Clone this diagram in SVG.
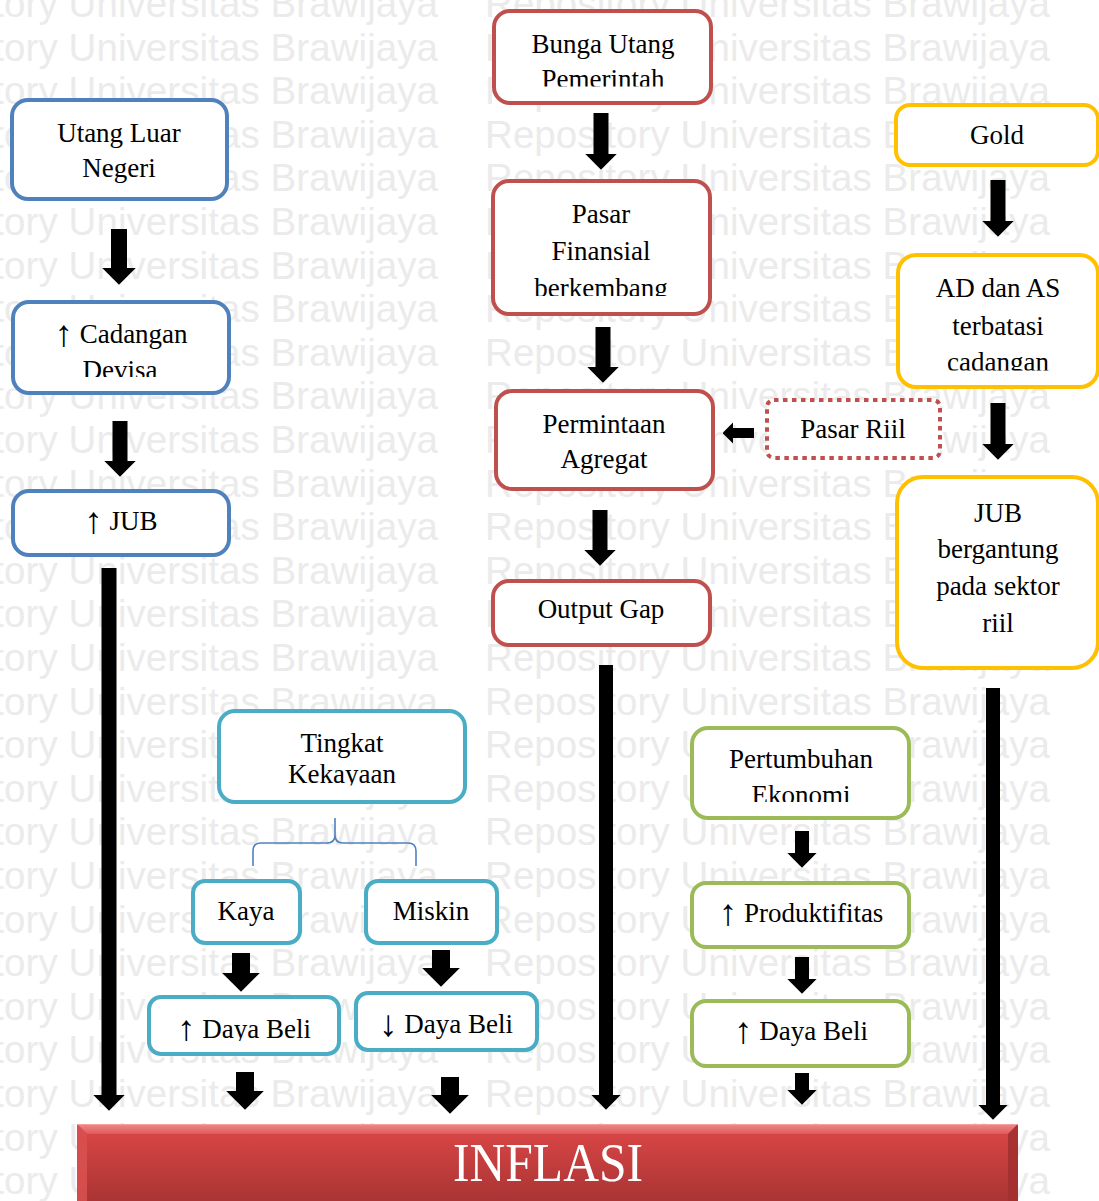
<svg xmlns="http://www.w3.org/2000/svg" width="1099" height="1201" viewBox="0 0 1099 1201">
<style>
.wm{font-family:"Liberation Sans",Arial,sans-serif;font-size:38.5px;fill:#ebebeb}
.box{fill:#fff;stroke-width:4}
.blue{stroke:#4f81bd}.red{stroke:#c0504d}.yel{stroke:#ffc000}.teal{stroke:#4bacc6}.grn{stroke:#9bbb59}
.dot{fill:#fff;stroke:#c0504d;stroke-width:4;stroke-dasharray:4.5 4.5}
.t{font-family:"Liberation Serif","Times New Roman",serif;font-size:27px;fill:#000;text-anchor:middle}
.ar{font-size:37px}
.arr{stroke:#000;fill:none;marker-end:url(#ah)}
.brace{fill:none;stroke:#4f81bd;stroke-width:1.6}
</style>
<defs>
<marker id="ah" viewBox="0 0 16 32" markerUnits="strokeWidth" markerWidth="1.07" markerHeight="2.13" refX="0.3" refY="16" orient="auto">
<path d="M0,0 L16,16 L0,32 z" fill="#000"/>
</marker>
<linearGradient id="red" x1="0" y1="0" x2="0" y2="1">
<stop offset="0" stop-color="#dd4747"/><stop offset="1" stop-color="#a83333"/>
</linearGradient>
<linearGradient id="redtop" x1="0" y1="0" x2="0" y2="1">
<stop offset="0" stop-color="#f08a8a"/><stop offset="1" stop-color="#e05a5a"/>
</linearGradient>
<clipPath id="cBunga"><rect x="494" y="11" width="217" height="75.5"/></clipPath>
<clipPath id="cDevisa"><rect x="13" y="302" width="216" height="75"/></clipPath>
<clipPath id="cPasar"><rect x="493" y="181" width="217" height="115"/></clipPath>
<clipPath id="cAD"><rect x="898" y="255" width="200" height="115.5"/></clipPath>
<clipPath id="cKek"><rect x="219" y="711" width="246" height="74.5"/></clipPath>
<clipPath id="cEko"><rect x="692" y="728" width="217" height="74"/></clipPath>
<clipPath id="cDaya"><rect x="149" y="997" width="190" height="44"/></clipPath>
</defs>
<rect width="1099" height="1201" fill="#fff"/>
<g id="watermark">
<text class="wm" x="-127" y="17" textLength="565">Repository Universitas Brawijaya</text><text class="wm" x="485" y="17" textLength="565">Repository Universitas Brawijaya</text>
<text class="wm" x="-127" y="60.6" textLength="565">Repository Universitas Brawijaya</text><text class="wm" x="485" y="60.6" textLength="565">Repository Universitas Brawijaya</text>
<text class="wm" x="-127" y="104.2" textLength="565">Repository Universitas Brawijaya</text><text class="wm" x="485" y="104.2" textLength="565">Repository Universitas Brawijaya</text>
<text class="wm" x="-127" y="147.8" textLength="565">Repository Universitas Brawijaya</text><text class="wm" x="485" y="147.8" textLength="565">Repository Universitas Brawijaya</text>
<text class="wm" x="-127" y="191.4" textLength="565">Repository Universitas Brawijaya</text><text class="wm" x="485" y="191.4" textLength="565">Repository Universitas Brawijaya</text>
<text class="wm" x="-127" y="235" textLength="565">Repository Universitas Brawijaya</text><text class="wm" x="485" y="235" textLength="565">Repository Universitas Brawijaya</text>
<text class="wm" x="-127" y="278.6" textLength="565">Repository Universitas Brawijaya</text><text class="wm" x="485" y="278.6" textLength="565">Repository Universitas Brawijaya</text>
<text class="wm" x="-127" y="322.2" textLength="565">Repository Universitas Brawijaya</text><text class="wm" x="485" y="322.2" textLength="565">Repository Universitas Brawijaya</text>
<text class="wm" x="-127" y="365.8" textLength="565">Repository Universitas Brawijaya</text><text class="wm" x="485" y="365.8" textLength="565">Repository Universitas Brawijaya</text>
<text class="wm" x="-127" y="409.4" textLength="565">Repository Universitas Brawijaya</text><text class="wm" x="485" y="409.4" textLength="565">Repository Universitas Brawijaya</text>
<text class="wm" x="-127" y="453" textLength="565">Repository Universitas Brawijaya</text><text class="wm" x="485" y="453" textLength="565">Repository Universitas Brawijaya</text>
<text class="wm" x="-127" y="496.6" textLength="565">Repository Universitas Brawijaya</text><text class="wm" x="485" y="496.6" textLength="565">Repository Universitas Brawijaya</text>
<text class="wm" x="-127" y="540.2" textLength="565">Repository Universitas Brawijaya</text><text class="wm" x="485" y="540.2" textLength="565">Repository Universitas Brawijaya</text>
<text class="wm" x="-127" y="583.8" textLength="565">Repository Universitas Brawijaya</text><text class="wm" x="485" y="583.8" textLength="565">Repository Universitas Brawijaya</text>
<text class="wm" x="-127" y="627.4" textLength="565">Repository Universitas Brawijaya</text><text class="wm" x="485" y="627.4" textLength="565">Repository Universitas Brawijaya</text>
<text class="wm" x="-127" y="671" textLength="565">Repository Universitas Brawijaya</text><text class="wm" x="485" y="671" textLength="565">Repository Universitas Brawijaya</text>
<text class="wm" x="-127" y="714.6" textLength="565">Repository Universitas Brawijaya</text><text class="wm" x="485" y="714.6" textLength="565">Repository Universitas Brawijaya</text>
<text class="wm" x="-127" y="758.2" textLength="565">Repository Universitas Brawijaya</text><text class="wm" x="485" y="758.2" textLength="565">Repository Universitas Brawijaya</text>
<text class="wm" x="-127" y="801.8" textLength="565">Repository Universitas Brawijaya</text><text class="wm" x="485" y="801.8" textLength="565">Repository Universitas Brawijaya</text>
<text class="wm" x="-127" y="845.4" textLength="565">Repository Universitas Brawijaya</text><text class="wm" x="485" y="845.4" textLength="565">Repository Universitas Brawijaya</text>
<text class="wm" x="-127" y="889" textLength="565">Repository Universitas Brawijaya</text><text class="wm" x="485" y="889" textLength="565">Repository Universitas Brawijaya</text>
<text class="wm" x="-127" y="932.6" textLength="565">Repository Universitas Brawijaya</text><text class="wm" x="485" y="932.6" textLength="565">Repository Universitas Brawijaya</text>
<text class="wm" x="-127" y="976.2" textLength="565">Repository Universitas Brawijaya</text><text class="wm" x="485" y="976.2" textLength="565">Repository Universitas Brawijaya</text>
<text class="wm" x="-127" y="1019.8" textLength="565">Repository Universitas Brawijaya</text><text class="wm" x="485" y="1019.8" textLength="565">Repository Universitas Brawijaya</text>
<text class="wm" x="-127" y="1063.4" textLength="565">Repository Universitas Brawijaya</text><text class="wm" x="485" y="1063.4" textLength="565">Repository Universitas Brawijaya</text>
<text class="wm" x="-127" y="1107" textLength="565">Repository Universitas Brawijaya</text><text class="wm" x="485" y="1107" textLength="565">Repository Universitas Brawijaya</text>
<text class="wm" x="-127" y="1150.6" textLength="565">Repository Universitas Brawijaya</text><text class="wm" x="485" y="1150.6" textLength="565">Repository Universitas Brawijaya</text>
<text class="wm" x="-127" y="1194.2" textLength="565">Repository Universitas Brawijaya</text><text class="wm" x="485" y="1194.2" textLength="565">Repository Universitas Brawijaya</text>
</g>
<g id="connectors">
<line class="arr" x1="119" y1="229" x2="119" y2="268" stroke-width="16"/>
<line class="arr" x1="120" y1="421" x2="120" y2="461" stroke-width="15"/>
<line class="arr" x1="109" y1="568" x2="109" y2="1095" stroke-width="15"/>
<line class="arr" x1="601" y1="113" x2="601" y2="154" stroke-width="15"/>
<line class="arr" x1="603" y1="327" x2="603" y2="367" stroke-width="15"/>
<line class="arr" x1="600" y1="510" x2="600" y2="550" stroke-width="15"/>
<line class="arr" x1="606" y1="665" x2="606" y2="1095" stroke-width="14"/>
<line class="arr" x1="998" y1="180" x2="998" y2="221" stroke-width="15"/>
<line class="arr" x1="998" y1="403" x2="998" y2="444" stroke-width="15"/>
<line class="arr" x1="993" y1="688" x2="993" y2="1105" stroke-width="14"/>
<line class="arr" x1="754" y1="433" x2="733" y2="433" stroke-width="10"/>
<line class="arr" x1="241" y1="953" x2="241" y2="973" stroke-width="18"/>
<line class="arr" x1="441" y1="950" x2="441" y2="968" stroke-width="18"/>
<line class="arr" x1="245" y1="1072" x2="245" y2="1091" stroke-width="18"/>
<line class="arr" x1="450" y1="1077" x2="450" y2="1095" stroke-width="18"/>
<line class="arr" x1="802" y1="831" x2="802" y2="853" stroke-width="14"/>
<line class="arr" x1="802" y1="957" x2="802" y2="979" stroke-width="14"/>
<line class="arr" x1="802" y1="1073" x2="802" y2="1090" stroke-width="14"/>
<path class="brace" d="M253,866 L253,851 Q253,843 261,843 L327,843 Q335,843 335,835 L335,818 M335,835 Q335,843 343,843 L408,843 Q416,843 416,851 L416,866"/>
</g>
<g id="utang-luar-negeri">
<rect class="box blue" x="12" y="100" width="215" height="99" rx="16"/>
<text class="t" x="119" y="142">Utang Luar</text><text class="t" x="119" y="177">Negeri</text>
</g>
<g id="cadangan-devisa">
<rect class="box blue" x="13" y="302" width="216" height="91" rx="16"/>
<text class="t" x="121" y="343"><tspan class="ar" baseline-shift="-3">↑</tspan> Cadangan</text><text class="t" x="120" y="379" clip-path="url(#cDevisa)">Devisa</text>
</g>
<g id="jub-left">
<rect class="box blue" x="13" y="491" width="216" height="64" rx="16"/>
<text class="t" x="121" y="530"><tspan class="ar" baseline-shift="-3">↑</tspan> JUB</text>
</g>
<g id="bunga-utang">
<rect class="box red" x="494" y="11" width="217" height="92" rx="16"/>
<text class="t" x="603" y="53">Bunga Utang</text><text class="t" x="603" y="88" clip-path="url(#cBunga)">Pemerintah</text>
</g>
<g id="pasar-finansial">
<rect class="box red" x="493" y="181" width="217" height="133" rx="16"/>
<text class="t" x="601" y="223">Pasar</text><text class="t" x="601" y="260">Finansial</text><text class="t" x="601" y="297" clip-path="url(#cPasar)">berkembang</text>
</g>
<g id="permintaan-agregat">
<rect class="box red" x="496" y="391" width="217" height="98" rx="16"/>
<text class="t" x="604" y="433">Permintaan</text><text class="t" x="604" y="468">Agregat</text>
</g>
<g id="output-gap">
<rect class="box red" x="493" y="581" width="217" height="64" rx="16"/>
<text class="t" x="601" y="618">Output Gap</text>
</g>
<g id="pasar-riil">
<rect class="dot" x="767" y="400" width="173" height="58" rx="7"/>
<text class="t" x="853" y="438">Pasar Riil</text>
</g>
<g id="gold">
<rect class="box yel" x="896" y="105" width="202" height="60" rx="14"/>
<text class="t" x="997" y="144">Gold</text>
</g>
<g id="ad-as">
<rect class="box yel" x="898" y="255" width="200" height="132" rx="18"/>
<text class="t" x="998" y="297">AD dan AS</text><text class="t" x="998" y="335">terbatasi</text><text class="t" x="998" y="371" clip-path="url(#cAD)">cadangan</text>
</g>
<g id="jub-sektor-riil">
<rect class="box yel" x="897" y="477" width="201" height="191" rx="26"/>
<text class="t" x="998" y="522">JUB</text><text class="t" x="998" y="558">bergantung</text><text class="t" x="998" y="595">pada sektor</text><text class="t" x="998" y="632">riil</text>
</g>
<g id="tingkat-kekayaan">
<rect class="box teal" x="219" y="711" width="246" height="91" rx="16"/>
<text class="t" x="342" y="752">Tingkat</text><text class="t" x="342" y="783" clip-path="url(#cKek)">Kekayaan</text>
</g>
<g id="kaya">
<rect class="box teal" x="193" y="881" width="107" height="62" rx="12"/>
<text class="t" x="246" y="920">Kaya</text>
</g>
<g id="miskin">
<rect class="box teal" x="366" y="881" width="131" height="62" rx="12"/>
<text class="t" x="431" y="920">Miskin</text>
</g>
<g id="daya-beli-naik">
<rect class="box teal" x="149" y="997" width="190" height="57" rx="12"/>
<text class="t" x="244" y="1038" clip-path="url(#cDaya)"><tspan class="ar" baseline-shift="-3">↑</tspan> Daya Beli</text>
</g>
<g id="daya-beli-turun">
<rect class="box teal" x="356" y="993" width="181" height="57" rx="12"/>
<text class="t" x="446" y="1033"><tspan class="ar" baseline-shift="-3">↓</tspan> Daya Beli</text>
</g>
<g id="pertumbuhan-ekonomi">
<rect class="box grn" x="692" y="728" width="217" height="90" rx="16"/>
<text class="t" x="801" y="768">Pertumbuhan</text><text class="t" x="801" y="804" clip-path="url(#cEko)">Ekonomi</text>
</g>
<g id="produktifitas">
<rect class="box grn" x="692" y="883" width="217" height="64" rx="14"/>
<text class="t" x="801" y="922"><tspan class="ar" baseline-shift="-3">↑</tspan> Produktifitas</text>
</g>
<g id="daya-beli-green">
<rect class="box grn" x="692" y="1001" width="217" height="65" rx="14"/>
<text class="t" x="801" y="1040"><tspan class="ar" baseline-shift="-3">↑</tspan> Daya Beli</text>
</g>
<g id="inflasi">
<rect x="77" y="1124" width="941" height="80" fill="url(#red)"/>
<polygon points="77,1124 1018,1124 1008,1134 87,1134" fill="url(#redtop)"/>
<polygon points="77,1124 87,1134 87,1201 77,1201" fill="#d85050" opacity="0.9"/>
<polygon points="1018,1124 1008,1134 1008,1201 1018,1201" fill="#a33030" opacity="0.9"/>
<line x1="77" y1="1124.5" x2="1018" y2="1124.5" stroke="#f4a0a0" stroke-width="1"/>
<text x="548" y="1181" font-family="Liberation Serif,'Times New Roman',serif" font-size="54" fill="#fff" text-anchor="middle" textLength="190" lengthAdjust="spacingAndGlyphs">INFLASI</text>
</g>
</svg>
